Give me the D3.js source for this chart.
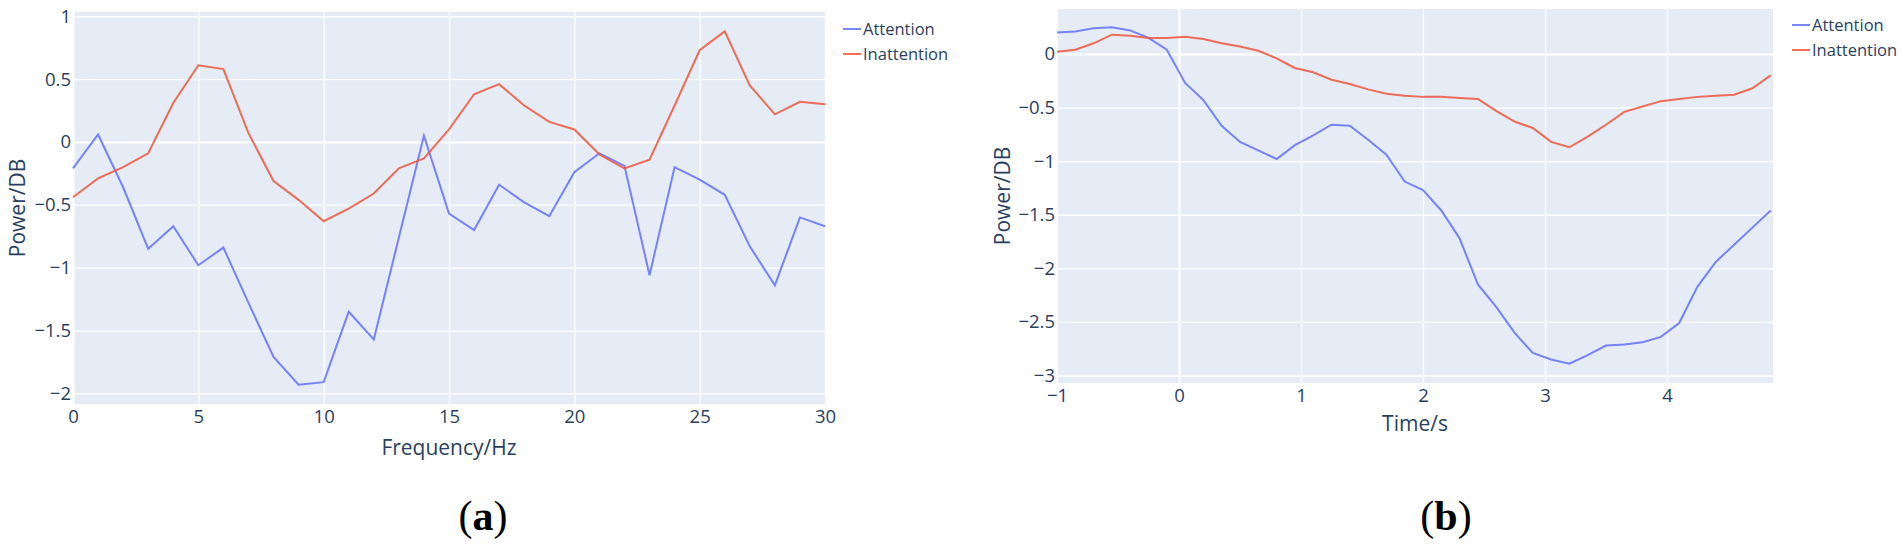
<!DOCTYPE html>
<html lang="en">
<head>
  <meta charset="UTF-8">
  <script src="https://d3js.org/d3.v7.min.js" charset="utf-8"></script>
  <title>Power spectra</title>
  <style>
    body { margin: 0; background: #fff; }
    text { font-family: "Open Sans", sans-serif; fill: #2a3f5f; }
  </style>
</head>
<body>
  <script type="text/javascript">
    // (a) power vs frequency
    var freqHz = [0, 1, 2, 3, 4, 5, 6, 7, 8, 9, 10, 11, 12, 13, 14, 15, 16, 17, 18, 19, 20, 21, 22, 23, 24, 25, 26, 27, 28, 29, 30];
    var freqAttention = [-0.21, 0.06, -0.36, -0.85, -0.67, -0.98, -0.84, -1.28, -1.71, -1.93, -1.91, -1.35, -1.57, -0.76, 0.05, -0.57,
      -0.70, -0.34, -0.48, -0.59, -0.24, -0.09, -0.19, -1.06, -0.20, -0.30, -0.42, -0.83, -1.14, -0.60, -0.67];
    var freqInattention = [-0.44, -0.29, -0.20, -0.09, 0.31, 0.61, 0.58, 0.07, -0.31, -0.46, -0.63, -0.53, -0.41, -0.21, -0.13, 0.10,
      0.38, 0.46, 0.29, 0.16, 0.10, -0.10, -0.21, -0.14, 0.29, 0.73, 0.88, 0.45, 0.22, 0.32, 0.30];
    var freqTicks = [0, 5, 10, 15, 20, 25, 30];
    var freqPowerTicks = [1, 0.5, 0, -0.5, -1, -1.5, -2];

    // (b) power vs time
    var timeS = [-1, -0.85, -0.7, -0.55, -0.4, -0.25, -0.1, 0.05, 0.2, 0.35, 0.5, 0.65, 0.8, 0.95, 1.1, 1.25, 1.4, 1.55, 1.7, 1.85,
      2, 2.15, 2.3, 2.45, 2.6, 2.75, 2.9, 3.05, 3.2, 3.35, 3.5, 3.65, 3.8, 3.95, 4.1, 4.25, 4.4, 4.55, 4.7, 4.85];
    var timeAttention = [0.20, 0.21, 0.24, 0.25, 0.22, 0.15, 0.04, -0.27, -0.43, -0.67, -0.82, -0.90, -0.98, -0.85, -0.76, -0.66, -0.67, -0.80, -0.94, -1.19,
      -1.27, -1.46, -1.72, -2.15, -2.36, -2.60, -2.79, -2.85, -2.89, -2.81, -2.72, -2.71, -2.69, -2.64, -2.51, -2.17, -1.94, -1.78, -1.62, -1.46];
    var timeInattention = [0.02, 0.04, 0.10, 0.18, 0.17, 0.15, 0.15, 0.16, 0.14, 0.10, 0.07, 0.03, -0.04, -0.13, -0.17, -0.24, -0.28, -0.33, -0.37, -0.39,
      -0.40, -0.40, -0.41, -0.42, -0.53, -0.63, -0.69, -0.82, -0.87, -0.77, -0.66, -0.54, -0.49, -0.44, -0.42, -0.40, -0.39, -0.38, -0.32, -0.20];
    var timeTicks = [-1, 0, 1, 2, 3, 4];
    var timePowerTicks = [0, -0.5, -1, -1.5, -2, -2.5, -3];

    var seriesNames = ["Attention", "Inattention"];
    var seriesColors = ["#636efa", "#ef553b"];

    var svg = d3.select("body").append("svg")
      .attr("width", 1902)
      .attr("height", 548);

    function fmt(d) { return String(d).replace("-", "\u2212"); }

    function panel(o) {
      var x = d3.scaleLinear().domain(o.xDomain).range([o.left, o.right]);
      var y = d3.scaleLinear().domain(o.yDomain).range([o.bottom, o.top]);
      var w = o.right - o.left, h = o.bottom - o.top;

      svg.append("rect")
        .attr("x", o.left).attr("y", o.top)
        .attr("width", w).attr("height", h)
        .attr("fill", "#e5ecf6");

      var gx = svg.append("g")
        .attr("transform", "translate(0," + o.bottom + ")")
        .call(d3.axisBottom(x).tickValues(o.xTicks).tickSize(-h).tickPadding(6).tickFormat(fmt));
      var gy = svg.append("g")
        .attr("transform", "translate(" + o.left + ",0)")
        .call(d3.axisLeft(y).tickValues(o.yTicks).tickSize(-w).tickPadding(2).tickFormat(fmt));

      [gx, gy].forEach(function (g) {
        g.select(".domain").remove();
        g.selectAll(".tick line")
          .attr("stroke", "#fff")
          .attr("stroke-width", function (d) { return d === 0 ? 2.2 : 1.3; });
        g.selectAll(".tick text")
          .attr("fill", "#2a3f5f")
          .style("font-size", "18.5px")
          .style("font-family", "'Open Sans', sans-serif");
      });

      var line = d3.line()
        .x(function (d) { return x(d[0]); })
        .y(function (d) { return y(d[1]); });

      o.series.forEach(function (s, i) {
        var pts = o.xs.map(function (v, j) { return [v, s[j]]; });
        svg.append("path")
          .datum(pts)
          .attr("d", line)
          .attr("fill", "none")
          .attr("stroke", seriesColors[i])
          .attr("stroke-opacity", 0.85)
          .attr("stroke-width", 2);
      });

      // axis titles
      svg.append("text")
        .attr("x", (o.left + o.right) / 2)
        .attr("y", o.bottom + o.xTitleOff)
        .attr("text-anchor", "middle")
        .attr("font-size", 21)
        .text(o.xTitle);
      svg.append("text")
        .attr("transform", "translate(" + (o.left + o.yTitleOff) + "," + ((o.top + o.bottom) / 2) + ") rotate(-90)")
        .attr("text-anchor", "middle")
        .attr("font-size", 21)
        .text("Power/DB");

      // legend
      var lg = svg.append("g").attr("transform", "translate(" + o.legendX + "," + o.legendY + ")");
      seriesNames.forEach(function (n, i) {
        lg.append("line")
          .attr("x1", 0).attr("x2", 18)
          .attr("y1", i * 25).attr("y2", i * 25)
          .attr("stroke", seriesColors[i])
          .attr("stroke-opacity", 0.85)
          .attr("stroke-width", 2);
        lg.append("text")
          .attr("x", 20).attr("y", i * 25 + 6)
          .attr("font-size", 16.5)
          .text(n);
      });

      // panel letter
      var lab = svg.append("text")
        .attr("x", o.labelX).attr("y", 530)
        .attr("text-anchor", "middle")
        .style("font-family", "'Liberation Serif', serif")
        .style("font-size", "42px")
        .style("fill", "#000");
      lab.append("tspan").text("(");
      lab.append("tspan").attr("font-weight", "bold").text(o.letter);
      lab.append("tspan").text(")");
    }

    panel({
      left: 73, right: 825, top: 12, bottom: 404,
      xDomain: [0, 30], yDomain: [-2.084, 1.034],
      xTicks: freqTicks, yTicks: freqPowerTicks,
      xs: freqHz, series: [freqAttention, freqInattention],
      xTitle: "Frequency/Hz", xTitleOff: 51, yTitleOff: -48,
      legendX: 843, legendY: 29,
      labelX: 483, letter: "a"
    });

    panel({
      left: 1057, right: 1773, top: 9, bottom: 383,
      xDomain: [-1, 4.869], yDomain: [-3.07, 0.42],
      xTicks: timeTicks, yTicks: timePowerTicks,
      xs: timeS, series: [timeAttention, timeInattention],
      xTitle: "Time/s", xTitleOff: 48, yTitleOff: -47,
      legendX: 1792, legendY: 25,
      labelX: 1446, letter: "b"
    });
  </script>
</body>
</html>
